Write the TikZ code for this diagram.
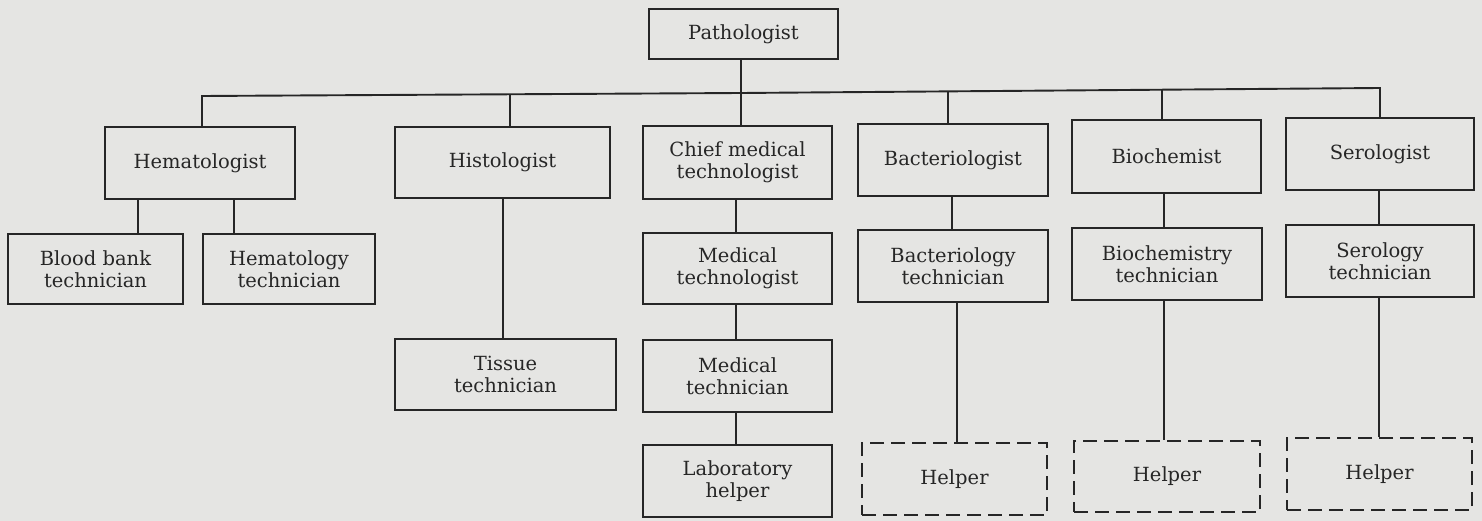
\documentclass[tikz,border=0pt]{standalone}
\usepackage{fontspec}
\setmainfont{DejaVu Serif}
\definecolor{bgcol}{RGB}{229,229,227}
\definecolor{ink}{RGB}{38,38,38}
\begin{document}
\begin{tikzpicture}[x=1pt,y=-1pt,
  box/.style={draw=ink,line width=1.9pt,inner sep=0pt,align=center,text=ink,
    font=\fontsize{19.5}{21.5}\selectfont},
  helperbox/.style={box,dashed,dash pattern=on 14pt off 7pt},
  link/.style={draw=ink,line width=1.9pt}]
\fill[bgcol] (0,0) rectangle (1482,521);
\useasboundingbox (0,0) rectangle (1482,521);
% top
\node[box,minimum width=189pt,minimum height=50pt] (path) at (743.5,34) {Pathologist};
% level 1
\node[box,minimum width=190pt,minimum height=72pt] (hem) at (200,163) {Hematologist};
\node[box,minimum width=215pt,minimum height=71pt] (his) at (502.5,162.5) {Histologist};
\node[box,minimum width=189pt,minimum height=73pt] (chief) at (737.5,162.5) {Chief medical\\technologist};
\node[box,minimum width=190pt,minimum height=72pt] (bac) at (953,160) {Bacteriologist};
\node[box,minimum width=189pt,minimum height=73pt] (bio) at (1166.5,156.5) {Biochemist};
\node[box,minimum width=188pt,minimum height=72pt] (ser) at (1380,154) {Serologist};
% level 2
\node[box,minimum width=175pt,minimum height=70pt] (bbt) at (95.5,269) {Blood bank\\technician};
\node[box,minimum width=172pt,minimum height=70pt] (het) at (289,269) {Hematology\\technician};
\node[box,minimum width=189pt,minimum height=71pt] (medtech) at (737.5,268.5) {Medical\\technologist};
\node[box,minimum width=190pt,minimum height=72pt] (bactech) at (953,266) {Bacteriology\\technician};
\node[box,minimum width=190pt,minimum height=72pt] (biotech) at (1167,264) {Biochemistry\\technician};
\node[box,minimum width=188pt,minimum height=72pt] (sertech) at (1380,261) {Serology\\technician};
% level 3
\node[box,minimum width=221pt,minimum height=71pt] (tissue) at (505.5,374.5) {Tissue\\technician};
\node[box,minimum width=189pt,minimum height=72pt] (medtecn) at (737.5,376) {Medical\\technician};
\node[box,minimum width=189pt,minimum height=72pt] (lab) at (737.5,481) {Laboratory\\helper};
\node[helperbox,minimum width=185pt,minimum height=72pt] (h1) at (954.5,479) {Helper};
\node[helperbox,minimum width=186pt,minimum height=71pt] (h2) at (1167,476.5) {Helper};
\node[helperbox,minimum width=185pt,minimum height=72pt] (h3) at (1379.5,474) {Helper};
% bar
\coordinate (bl) at (202,96);
\coordinate (jc) at (741,93);
\coordinate (br) at (1380,88);
\coordinate (j2) at (510,94.5);
\coordinate (j4) at (948,91.5);
\coordinate (j5) at (1162,90);
\draw[link] (path.south -| jc) -- (jc);
\draw[link] (hem.north -| bl) -- (bl) -- (jc) -- (br) -- (br |- ser.north);
\draw[link] (j2) -- (j2 |- his.north);
\draw[link] (jc) -- (jc |- chief.north);
\draw[link] (j4) -- (j4 |- bac.north);
\draw[link] (j5) -- (j5 |- bio.north);
% lower links
\draw[link] (hem.south -| 138,0) -- (bbt.north -| 138,0);
\draw[link] (hem.south -| 234,0) -- (het.north -| 234,0);
\draw[link] (his.south -| 503,0) -- (tissue.north -| 503,0);
\draw[link] (chief.south -| 736,0) -- (medtech.north -| 736,0);
\draw[link] (medtech.south -| 736,0) -- (medtecn.north -| 736,0);
\draw[link] (medtecn.south -| 736,0) -- (lab.north -| 736,0);
\draw[link] (bac.south -| 952,0) -- (bactech.north -| 952,0);
\draw[link] (bactech.south -| 957,0) -- (h1.north -| 957,0);
\draw[link] (bio.south -| 1164,0) -- (biotech.north -| 1164,0);
\draw[link] (biotech.south -| 1164,0) -- (h2.north -| 1164,0);
\draw[link] (ser.south -| 1379,0) -- (sertech.north -| 1379,0);
\draw[link] (sertech.south -| 1379,0) -- (h3.north -| 1379,0);
\end{tikzpicture}
\end{document}
